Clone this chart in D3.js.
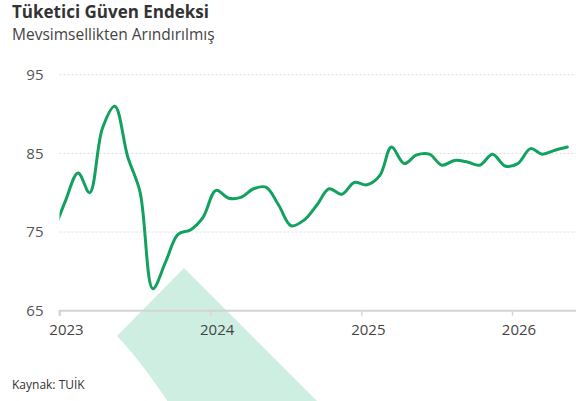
<!DOCTYPE html>
<html>
<head>
<meta charset="utf-8">
<script src="https://cdn.jsdelivr.net/npm/d3@7"></script>
<style>
  body { margin: 0; background: #fff; }
  svg { display: block; font-family: "Open Sans", sans-serif; }
</style>
</head>
<body>
<div id="chart"></div>
<script>
// monthly values, Dec 2022 .. May 2026
var months = [];
for (var i = 0; i < 42; i++) months.push(new Date(2022, 11 + i, 15));

var values = [
  74.7,                                                             // Dec 2022
  78.9, 82.5, 80.0, 88.2, 91.0, 84.6, 80.1, 67.8, 71.2, 74.7, 75.3, 76.9, // 2023
  80.3, 79.3, 79.4, 80.5, 80.7, 78.4, 75.8, 76.5, 78.4, 80.5, 79.8, 81.3, // 2024
  81.0, 82.2, 85.8, 83.7, 84.8, 84.9, 83.5, 84.1, 83.9, 83.5, 84.9, 83.4, // 2025
  83.7, 85.6, 84.9, 85.4, 85.8                                      // 2026
];

var yTicks = [65, 75, 85, 95];
var xTickYears = [2023, 2024, 2025, 2026];

var W = 576, H = 401;
var margin = {top: 74.7, right: 0, bottom: 90.3, left: 59.5};
var innerW = W - margin.left - margin.right,
    innerH = H - margin.top - margin.bottom;

var svg = d3.select("#chart").append("svg")
    .attr("width", W)
    .attr("height", H);

// watermark shape in the background
var wm = d3.path();
wm.moveTo(184, 268);
wm.lineTo(318, 402);
wm.lineTo(168, 402);
wm.quadraticCurveTo(140, 360, 117, 336);
wm.closePath();
svg.append("path").attr("d", wm.toString()).attr("fill", "#cdeee0");

// title
svg.append("text").attr("x", 12).attr("y", 17.5)
   .attr("font-size", 17).attr("font-weight", "bold").attr("fill", "#333")
   .text("Tüketici Güven Endeksi");
svg.append("text").attr("x", 12).attr("y", 39.5)
   .attr("font-size", 15.5).attr("fill", "#444")
   .text("Mevsimsellikten Arındırılmış");

var g = svg.append("g").attr("transform", `translate(${margin.left},${margin.top})`);

var x = d3.scaleTime()
    .domain([new Date(2023, 0, 1), new Date(2026, 0, 1)])
    .range([0, 452.5]);
var y = d3.scaleLinear().domain([65, 95]).range([innerH, 0]);

// grid
g.selectAll(".grid").data(yTicks.filter(function(d) { return d > 65; }))
  .enter().append("line")
  .attr("x1", 0).attr("x2", innerW)
  .attr("y1", function(d) { return y(d); }).attr("y2", function(d) { return y(d); })
  .attr("stroke", "#dcdcdc").attr("stroke-dasharray", "2,2");

// y labels
g.selectAll(".ylab").data(yTicks).enter().append("text")
  .attr("x", -16).attr("y", function(d) { return y(d); }).attr("dy", "0.35em")
  .attr("text-anchor", "end").attr("font-size", 15).attr("fill", "#555")
  .text(function(d) { return d; });

// x axis
var xAxis = d3.axisBottom(x)
    .tickValues(xTickYears.map(function(yr) { return new Date(yr, 0, 1); }))
    .tickFormat(d3.timeFormat("%Y"))
    .tickSize(5).tickSizeOuter(0);
var ax = g.append("g").attr("transform", `translate(0,${innerH})`).call(xAxis);
ax.select(".domain").attr("d", `M0,5V0H${innerW}`).attr("stroke", "#d4d4d4").attr("stroke-width", 2);
ax.selectAll(".tick line").attr("stroke", "#d4d4d4").attr("stroke-width", 1.5);
ax.selectAll(".tick text").attr("font-size", 15).attr("fill", "#444")
  .attr("font-family", "Open Sans, sans-serif").attr("dx", 6.5).attr("y", 14);

// clip the line to the plot area
svg.append("clipPath").attr("id", "clip").append("rect")
   .attr("x", 0).attr("y", -20).attr("width", innerW).attr("height", innerH + 40);

var line = d3.line()
    .x(function(d, i) { return x(months[i]); })
    .y(function(d) { return y(d); })
    .curve(d3.curveCatmullRom);

g.append("path").datum(values)
  .attr("clip-path", "url(#clip)")
  .attr("fill", "none").attr("stroke", "#12a15f").attr("stroke-width", 3)
  .attr("stroke-linejoin", "round").attr("stroke-linecap", "round")
  .attr("d", line);

svg.append("text").attr("x", 12).attr("y", 389)
   .attr("font-size", 12).attr("fill", "#333")
   .text("Kaynak: TUİK");
</script>
</body>
</html>
